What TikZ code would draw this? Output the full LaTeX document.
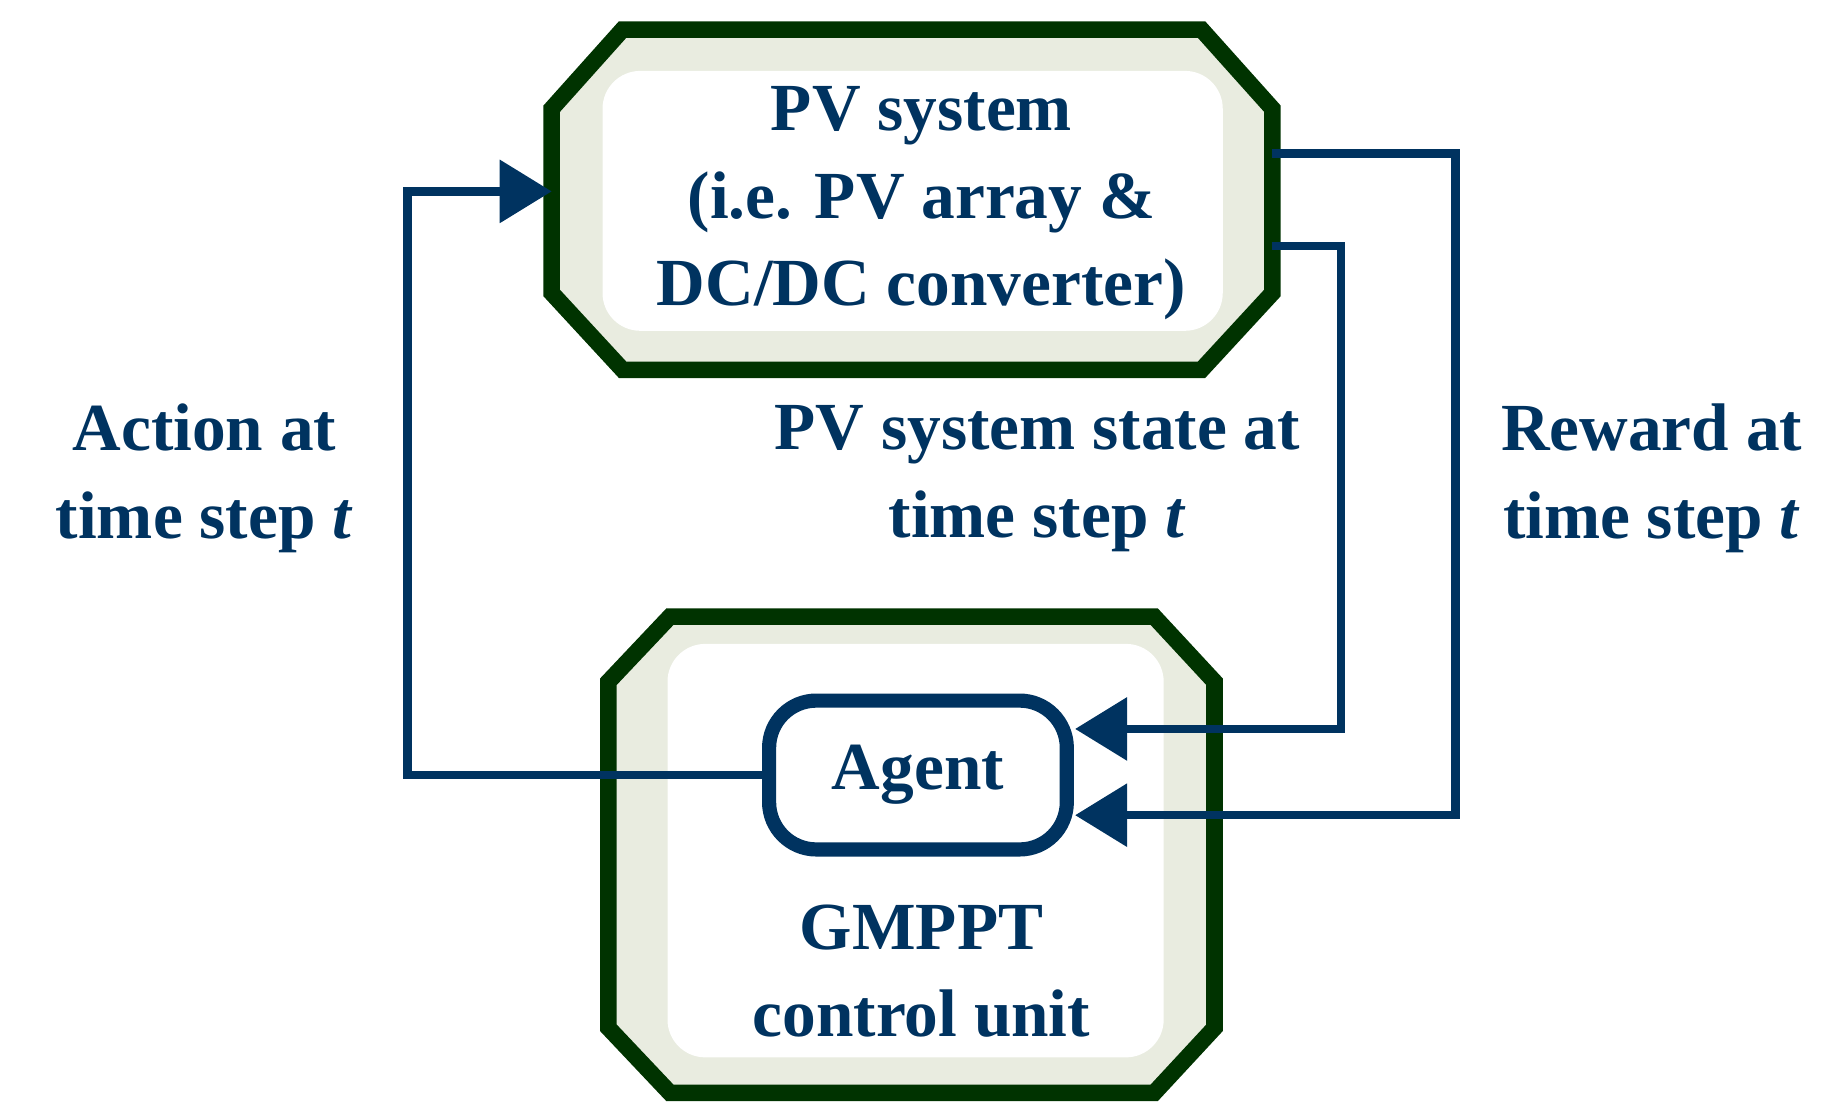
\documentclass[tikz,border=0pt]{standalone}
\usepackage{fontspec}
\setmainfont{Liberation Serif}
\usetikzlibrary{arrows.meta}
\definecolor{navy}{HTML}{003360}
\definecolor{dgreen}{HTML}{003300}
\definecolor{pale}{HTML}{E9ECE0}
\begin{document}
\begin{tikzpicture}[x=0.5pt,y=-0.5pt,
  oct/.style={draw=dgreen,line width=7pt,fill=pale,line join=miter},
  inner/.style={fill=white,draw=none,rounded corners=16pt},
  conn/.style={draw=navy,line width=3.5pt},
  arr/.style={conn,-{Triangle[length=22pt,width=26pt]}},
  txt/.style={text=navy,font=\fontsize{28.5}{37}\selectfont\bfseries,align=center}]
\useasboundingbox (0,0) rectangle (1560,944);
% top octagon
\draw[oct] (527,25) -- (1017,25) -- (1077,92) -- (1077,248) -- (1017,313) -- (527,313) -- (467,248) -- (467,92) -- cycle;
\fill[inner] (510,60) rectangle (1035,280);
\node[txt] (pv) at (780,172) {PV system\\ (i.e. PV array \&\\ DC/DC converter)};
% bottom octagon
\draw[oct] (567,522) -- (977,522) -- (1028,577) -- (1028,870) -- (977,925) -- (567,925) -- (515,870) -- (515,577) -- cycle;
\fill[inner] (565,545) rectangle (985,895);
\node[draw=navy,line width=6pt,rounded corners=20pt,minimum width=126pt,minimum height=63pt,txt] (agent) at (777,656) {Agent};
\node[txt] (gm) at (780,822) {GMPPT\\control unit};
% connectors
\coordinate (pvin) at (467,162);
\coordinate (pvs) at (1077,208);
\coordinate (pvr) at (1077,130);
\coordinate (ags) at (910,617);
\coordinate (agr) at (910,690);
\draw[arr] (agent.west) -| (345,162) -- (pvin);
\draw[arr] (pvs) -- (1135,208) |- (ags);
\draw[arr] (pvr) -- (1232,130) |- (agr);
% labels
\node[txt] (la) at (173,405) {Action at\\ time step \textit{t}};
\node[txt] (ls) at (878,405) {PV system state at\\ time step \textit{t}};
\node[txt] (lr) at (1398,405) {Reward at\\ time step \textit{t}};
\end{tikzpicture}
\end{document}
